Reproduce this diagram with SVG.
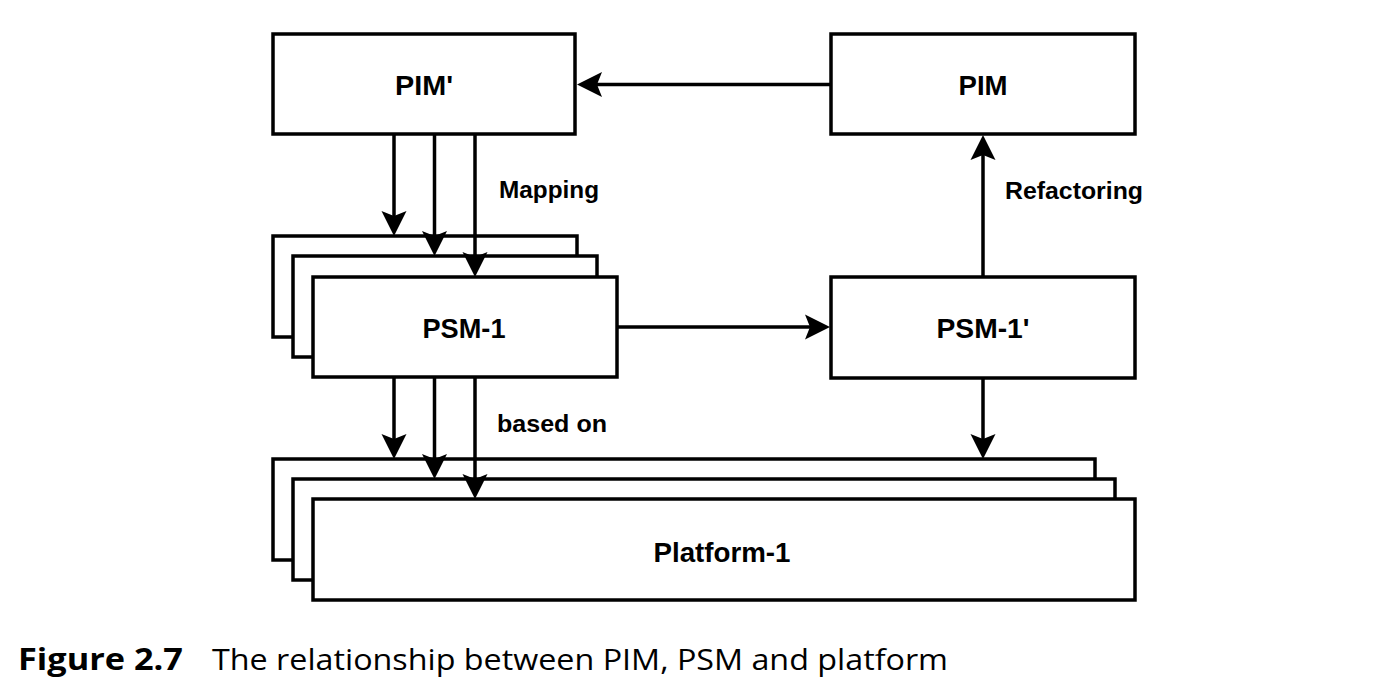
<svg xmlns="http://www.w3.org/2000/svg" width="1394" height="694" viewBox="0 0 1394 694">
<style>
.box{fill:#fff;stroke:#000;stroke-width:3.5}
.lbl{font-family:"Liberation Sans",Arial,Helvetica,sans-serif;font-weight:bold;font-size:28px;fill:#000;text-anchor:middle}
.elbl{font-family:"Liberation Sans",Arial,Helvetica,sans-serif;font-weight:bold;font-size:24px;fill:#000}
.conn{fill:none;stroke:#000;stroke-width:3.5;marker-end:url(#arr)}
.cap{font-family:"Open Sans","Noto Sans",sans-serif;font-size:30px;fill:#000}
</style>
<defs>
<marker id="arr" markerUnits="userSpaceOnUse" markerWidth="27" markerHeight="27" refX="15" refY="12.5" orient="auto" overflow="visible">
<path d="M25,12.5 L0,0 L5,12.5 L0,25 Z" fill="#000"/>
</marker>
</defs>
<rect width="1394" height="694" fill="#fff"/>
<g id="pim-prime">
<rect class="box" x="273" y="34" width="302" height="100"/>
<text class="lbl" x="424" y="95" textLength="58" lengthAdjust="spacingAndGlyphs">PIM'</text>
</g>
<g id="pim">
<rect class="box" x="831" y="34" width="304" height="100"/>
<text class="lbl" x="983" y="95" textLength="49" lengthAdjust="spacingAndGlyphs">PIM</text>
</g>
<g id="psm-1-stack">
<rect class="box" x="273" y="236" width="304" height="101"/>
<rect class="box" x="293" y="256" width="304" height="101"/>
<rect class="box" x="313" y="277" width="304" height="100"/>
<text class="lbl" x="464" y="338" textLength="83" lengthAdjust="spacingAndGlyphs">PSM-1</text>
</g>
<g id="psm-1-prime">
<rect class="box" x="831" y="277" width="304" height="101"/>
<text class="lbl" x="983" y="338" textLength="93" lengthAdjust="spacingAndGlyphs">PSM-1'</text>
</g>
<g id="platform-1-stack">
<rect class="box" x="273" y="459" width="822" height="101"/>
<rect class="box" x="293" y="479" width="822" height="101"/>
<rect class="box" x="313" y="499" width="822" height="101"/>
<text class="lbl" x="722" y="562" textLength="137" lengthAdjust="spacingAndGlyphs">Platform-1</text>
</g>
<g id="connectors">
<line class="conn" x1="831" y1="84.5" x2="587" y2="84.5"/>
<line class="conn" x1="394" y1="134" x2="394" y2="226"/>
<line class="conn" x1="434.5" y1="134" x2="434.5" y2="246"/>
<line class="conn" x1="475" y1="134" x2="475" y2="267"/>
<line class="conn" x1="394" y1="377" x2="394" y2="449"/>
<line class="conn" x1="434.5" y1="377" x2="434.5" y2="469"/>
<line class="conn" x1="475" y1="377" x2="475" y2="489"/>
<line class="conn" x1="617" y1="327" x2="820" y2="327"/>
<line class="conn" x1="983" y1="277" x2="983" y2="145"/>
<line class="conn" x1="983" y1="378" x2="983" y2="449"/>
<text class="elbl" x="499" y="198" textLength="100" lengthAdjust="spacingAndGlyphs">Mapping</text>
<text class="elbl" x="1005" y="199" textLength="138" lengthAdjust="spacingAndGlyphs">Refactoring</text>
<text class="elbl" x="497" y="432" textLength="110" lengthAdjust="spacingAndGlyphs">based on</text>
</g>
<g id="caption">
<text class="cap" x="18" y="670" font-weight="bold" textLength="165" lengthAdjust="spacingAndGlyphs">Figure 2.7</text>
<text class="cap" x="212" y="670" textLength="736" lengthAdjust="spacingAndGlyphs">The relationship between PIM, PSM and platform</text>
</g>
</svg>
